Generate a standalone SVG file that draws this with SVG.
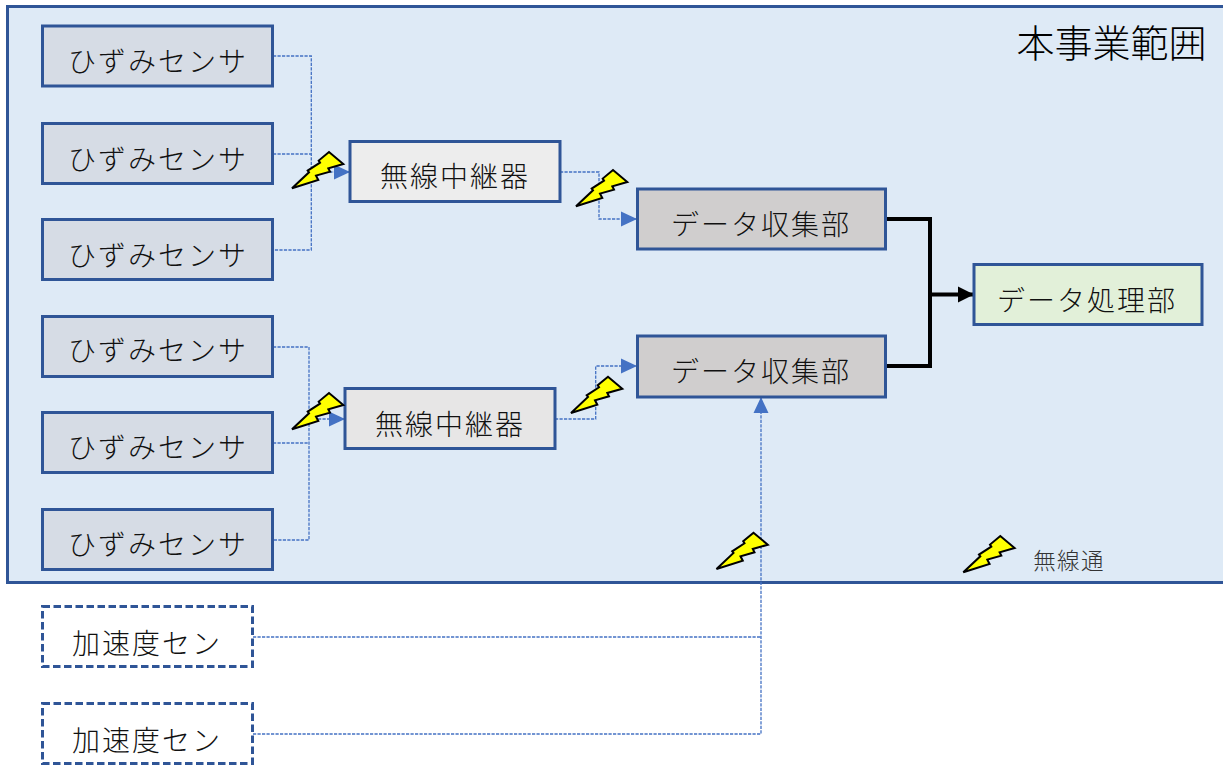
<svg xmlns="http://www.w3.org/2000/svg" width="1223" height="765" viewBox="0 0 1223 765">
<style>
text{font-family:"Noto Sans CJK JP","Noto Sans CJK SC",sans-serif;font-weight:300;fill:#111;text-anchor:middle}
.t{font-size:28px;letter-spacing:2px}
.box{stroke:#2F5597;stroke-width:3}
.s{fill:#D6DCE5}
.c{fill:#D0CECE}
.a{fill:#fff;stroke-dasharray:7.500 3.500}
.d{fill:none;stroke:#4472C4;stroke-width:1.300;stroke-dasharray:3.200 1.300}
.k{fill:none;stroke:#000;stroke-width:4}
.bolt{fill:#FFFF00;stroke:#000;stroke-width:2;stroke-linejoin:miter}
</style>
<defs>
<polygon id="b" points="0,0 17,-16 15.700,-17.700 28,-25.700 26.700,-27.700 37,-36.300 51.300,-24.300 36.300,-20 38,-16.700 24,-12.700 26.300,-8.300"/>
<marker id="ab" markerUnits="userSpaceOnUse" markerWidth="16" markerHeight="16" refX="16" refY="8" orient="auto"><path d="M0,0.500L16,8L0,15.500Z" fill="#4472C4"/></marker>
<marker id="ak" markerUnits="userSpaceOnUse" markerWidth="16" markerHeight="18" refX="16" refY="9" orient="auto"><path d="M0,1L16,9L0,17Z" fill="#000"/></marker>
</defs>
<g id="scope"><rect x="7.500" y="6.500" width="1218" height="576" fill="#DEEAF6" class="box"/><text x="1111.500" y="57" style="font-size:38px;fill:#000">本事業範囲</text></g>
<g id="connectors">
<path class="d" d="M273,56H311.300V250H273M273,154H311.300"/>
<path class="d" d="M311.300,172H350" marker-end="url(#ab)"/>
<path class="d" d="M560,172H599V219H637" marker-end="url(#ab)"/>
<path class="d" d="M273,347H309V540H273M273,443H309"/>
<path class="d" d="M309,419H345" marker-end="url(#ab)"/>
<path class="d" d="M555,419H595.700V366H637" marker-end="url(#ab)"/>
<path class="d" d="M253,637H761M253,734H761V397" marker-end="url(#ab)"/>
<path class="k" d="M885,219H930V366H885"/>
<path class="k" d="M930,294.500H974" marker-end="url(#ak)"/>
</g>
<g id="sensor1"><rect class="box s" x="42.500" y="26" width="230" height="60"/><text class="t" x="158" y="72">ひずみセンサ</text></g>
<g id="sensor2"><rect class="box s" x="42.500" y="123.500" width="230" height="60"/><text class="t" x="158" y="170">ひずみセンサ</text></g>
<g id="sensor3"><rect class="box s" x="42.500" y="219.500" width="230" height="60"/><text class="t" x="158" y="266">ひずみセンサ</text></g>
<g id="sensor4"><rect class="box s" x="42.500" y="316.500" width="230" height="60"/><text class="t" x="158" y="361">ひずみセンサ</text></g>
<g id="sensor5"><rect class="box s" x="42.500" y="412.500" width="230" height="60"/><text class="t" x="158" y="458">ひずみセンサ</text></g>
<g id="sensor6"><rect class="box s" x="42.500" y="509.500" width="230" height="60"/><text class="t" x="158" y="555">ひずみセンサ</text></g>
<g id="relay1"><rect class="box" fill="#EDEDED" x="350" y="141.500" width="210" height="60"/><text class="t" x="455" y="187">無線中継器</text></g>
<g id="relay2"><rect class="box" fill="#E7E6E6" x="345" y="388.500" width="210" height="60"/><text class="t" x="450" y="435">無線中継器</text></g>
<g id="collector1"><rect class="box c" x="637.500" y="189" width="248" height="60"/><text class="t" x="761" y="235">データ収集部</text></g>
<g id="collector2"><rect class="box c" x="637.500" y="336" width="248" height="61"/><text class="t" x="761" y="382">データ収集部</text></g>
<g id="processor"><rect class="box" fill="#E2F0D9" x="974" y="264.500" width="228" height="60"/><text class="t" x="1087" y="311">データ処理部</text></g>
<g id="accel1"><rect class="box a" x="42.500" y="606.500" width="210" height="60"/><text class="t" x="147" y="654">加速度セン</text></g>
<g id="accel2"><rect class="box a" x="42.500" y="703.500" width="210" height="60"/><text class="t" x="147" y="751">加速度セン</text></g>
<g id="bolts">
<use href="#b" class="bolt" x="292" y="188.300"/>
<use href="#b" class="bolt" x="576" y="206.300"/>
<use href="#b" class="bolt" x="292" y="429.300"/>
<use href="#b" class="bolt" x="571" y="413"/>
<use href="#b" class="bolt" x="716.500" y="569"/>
<use href="#b" class="bolt" x="963.300" y="572.300"/>
</g>
<g id="legend"><text x="1069" y="569" style="font-size:22.500px;letter-spacing:1.300px;fill:#333">無線通</text></g>
</svg>
